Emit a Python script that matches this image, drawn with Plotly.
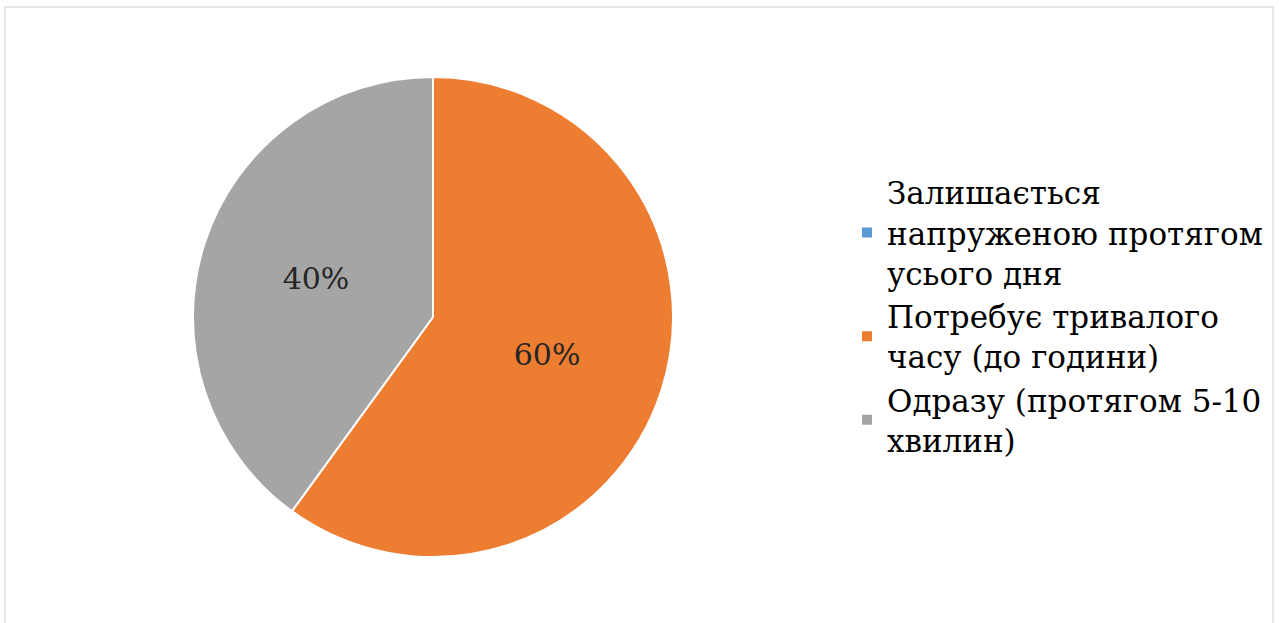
import plotly.graph_objects as go

labels = [
    "Залишається<br>напруженою протягом<br>усього дня",
    "Потребує тривалого<br>часу (до години)",
    "Одразу (протягом 5-10<br>хвилин)",
]
values = [0, 60, 40]
colors = ["#5B9BD5", "#ED7D31", "#A5A5A5"]
label_templates = ["", "%{percent:.0%}", "%{percent:.0%}"]

W, H = 1279, 623
SERIF = "DejaVu Serif"

fig = go.Figure()
fig.add_trace(go.Pie(
    labels=labels,
    values=values,
    sort=False,
    direction="clockwise",
    rotation=0,
    marker=dict(colors=colors, line=dict(color="white", width=2)),
    texttemplate=label_templates,
    textposition="inside",
    insidetextorientation="horizontal",
    textfont=dict(family=SERIF, size=30, color="#262626"),
    domain=dict(x=[193 / W, 673 / W], y=[1 - 557 / H, 1 - 77 / H]),
    showlegend=True,
    hoverinfo="label+percent",
))

fig.update_layout(
    width=W, height=H,
    margin=dict(l=0, r=0, t=0, b=0),
    paper_bgcolor="white",
    plot_bgcolor="white",
    legend=dict(
        x=847 / W, y=0.492, xanchor="left", yanchor="middle",
        font=dict(family=SERIF, size=31, color="#000000"),
        itemsizing="constant",
        tracegroupgap=0,
    ),
    shapes=[dict(
        type="rect", xref="paper", yref="paper",
        x0=5 / W, x1=1273 / W, y0=-0.05, y1=1 - 7 / H,
        line=dict(color="#E6E6E6", width=2),
        fillcolor="rgba(0,0,0,0)",
    )],
)

fig.write_html("out.html", config={"displayModeBar": False},
               post_script="document.body.style.margin='0';document.body.style.padding='0';")
